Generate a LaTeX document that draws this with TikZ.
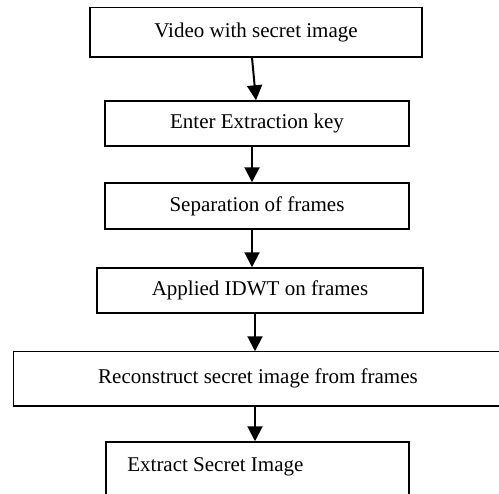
\documentclass[tikz,border=0pt]{standalone}
\usepackage{fontspec}
\setmainfont{Liberation Serif}
\usetikzlibrary{arrows.meta,calc}
\begin{document}
\begin{tikzpicture}[x=0.6pt,y=-0.6pt,
  box/.style={draw,line width=0.9pt,inner sep=0pt,font=\fontsize{12.6}{15}\selectfont},
  arr/.style={line width=1.2pt,-{Triangle[length=9pt,width=9pt]}}]
\useasboundingbox (0,0) rectangle (499,493);
\node[box,minimum width=199.2pt,minimum height=29.7pt] (b1) at (256,32.2) {Video with secret image};
\node[box,minimum width=182.4pt,minimum height=27pt] (b2) at (257,123.5) {Enter Extraction key};
\node[box,minimum width=182.4pt,minimum height=27.6pt] (b3) at (257,206) {Separation of frames};
\node[box,minimum width=195.6pt,minimum height=27pt] (b4) at (260,290.5) {Applied IDWT on frames};
\node[box,draw=none,minimum width=297.6pt,minimum height=31.8pt] (b5) at (262,378.5) {\hspace*{-4.8pt}Reconstruct secret image from frames};
\draw[line width=0.9pt] (b5.north east) -- (b5.north west) -- (b5.south west) -- (b5.south east);
\node[box,minimum width=181.8pt,minimum height=36pt] (b6) at (257.5,472) {};
\node[font=\fontsize{12.6}{15}\selectfont,anchor=west,inner sep=0pt] (t6) at (127,467) {Extract Secret Image};
\draw[arr] ($(b1.south)+(-4,0)$) -- ($(b2.north)+(-1,0)$);
\draw[arr] ($(b2.south)+(-5,0)$) -- ($(b3.north)+(-5,0)$);
\draw[arr] ($(b3.south)+(-5,0)$) -- ($(b4.north)+(-8,0)$);
\draw[arr] ($(b4.south)+(-5,0)$) -- ($(b5.north)+(-7,0)$);
\draw[arr] ($(b5.south)+(-7,0)$) -- ($(b6.north)+(-2.5,0)$);
\end{tikzpicture}
\end{document}
